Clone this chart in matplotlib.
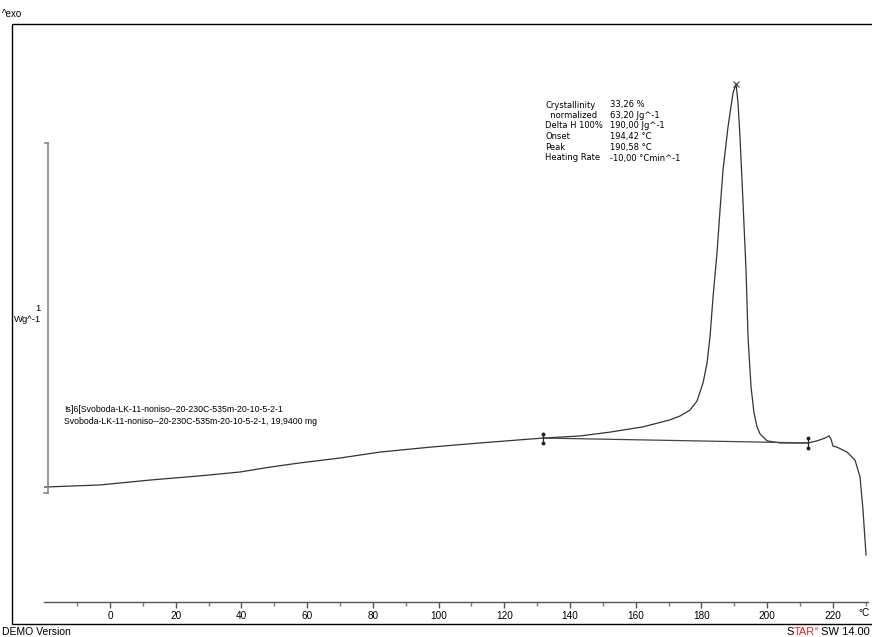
import matplotlib
matplotlib.use("Agg")
import matplotlib.pyplot as plt
from matplotlib.lines import Line2D
from matplotlib.patches import Rectangle
import matplotlib.transforms as mtransforms

# ---- data ----
temperature = [-20.09, -3.04, 12.17, 27.39, 39.56, 48.69, 57.82, 69.99, 82.17, 97.38,
               112.6, 131.77, 143.03, 152.16, 162.2, 170.42, 173.46, 176.51, 178.64,
               180.46, 181.68, 182.59, 183.51, 184.72, 185.64, 186.55, 188.07, 189.59,
               190.51, 191.11, 191.72, 192.64, 193.55, 194.16, 195.07, 195.98, 196.9,
               197.81, 199.94, 203.9, 212.42, 215.15, 217.59, 218.81, 219.42, 220.02,
               221.24, 224.29, 226.72, 228.24, 229.15, 230.07]
heat_flow = [0.017, 0.023, 0.037, 0.049, 0.060, 0.074, 0.086, 0.100, 0.117, 0.131,
             0.143, 0.157, 0.163, 0.174, 0.189, 0.209, 0.220, 0.237, 0.263,
             0.314, 0.371, 0.446, 0.560, 0.686, 0.809, 0.923, 1.046, 1.143,
             1.169, 1.114, 1.017, 0.829, 0.637, 0.446, 0.303, 0.229, 0.189,
             0.169, 0.149, 0.143, 0.143, 0.149, 0.157, 0.163, 0.154, 0.134,
             0.131, 0.117, 0.094, 0.046, -0.049, -0.177]
baseline_T = [131.77, 212.42]
baseline_v = [0.157, 0.143]
peak_T = [190.51]
peak_v = [1.169]
major_ticks = [0, 20, 40, 60, 80, 100, 120, 140, 160, 180, 200, 220]
minor_ticks = [-10, 10, 30, 50, 70, 90, 110, 130, 150, 170, 190, 210, 230]
result_labels = ["Crystallinity", "  normalized", "Delta H 100%", "Onset", "Peak", "Heating Rate"]
result_values = ["33,26 %", "63,20 Jg^-1", "190,00 Jg^-1", "194,42 °C", "190,58 °C", "-10,00 °Cmin^-1"]
sample_lines = ["!s]6[Svoboda-LK-11-noniso--20-230C-535m-20-10-5-2-1",
                "Svoboda-LK-11-noniso--20-230C-535m-20-10-5-2-1, 19,9400 mg"]

W, H = 872, 637
fig = plt.figure(figsize=(W / 100, H / 100), dpi=100)
FONT = ["Liberation Sans", "DejaVu Sans"]
FONT2 = ["DejaVu Sans"]

def fx(px):
    return px / W

def fy(py):
    return 1 - py / H

# outer frame
fig.patches.append(Rectangle((fx(12), fy(624)), 1.2, fy(24) - fy(624), transform=fig.transFigure,
                             fill=False, edgecolor="black", linewidth=1.0))

ax = fig.add_axes([fx(44), fy(602), fx(868) - fx(44), fy(24) - fy(602)])
ax.set_xlim(-20.09, 230.67)
ax.set_ylim(-0.3114, 1.34)
ax.patch.set_alpha(0)
for s in ["top", "right", "left"]:
    ax.spines[s].set_visible(False)
ax.spines["bottom"].set_color("#555555")
ax.spines["bottom"].set_linewidth(1.0)
ax.set_yticks([])
ax.set_xticks(major_ticks)
ax.set_xticks(minor_ticks, minor=True)
ax.tick_params(axis="x", which="major", direction="out", length=4, width=1, color="#555555",
               labelsize=7.2, pad=2.5)
ax.tick_params(axis="x", which="minor", direction="out", length=3, width=1, color="#777777")
for lab in ax.get_xticklabels():
    lab.set_family(FONT)

# curve
ax.plot(temperature, heat_flow, color="#333333", linewidth=0.9, solid_joinstyle="round")
ax.plot(baseline_T, baseline_v, color="#444444", linewidth=0.9)
ax.plot(peak_T, peak_v, marker="x", color="#444444", markersize=5, markeredgewidth=0.8)
for t, v in zip(baseline_T, baseline_v):
    ax.plot([t, t], [v - 0.013, v + 0.013], color="#222222", linewidth=0.9)
    ax.plot([t, t], [v - 0.013, v + 0.013], linestyle="none", marker="o", markersize=1.8,
            color="#222222")

# scale bar (1 W/g)
trans = mtransforms.blended_transform_factory(ax.transAxes, ax.transData)
xb = 4 / 824
ax.add_line(Line2D([xb, xb], [0, 1], transform=trans, color="#888888", linewidth=1.2,
                   clip_on=False))
ax.add_line(Line2D([xb - 3 / 824, xb], [1, 1], transform=trans, color="#888888", linewidth=1.2,
                   clip_on=False))
ax.add_line(Line2D([0, xb], [0, 0], transform=trans, color="#888888", linewidth=1.2,
                   clip_on=False))
fig.text(fx(41), fy(308), "1", ha="right", va="center", fontsize=6.8, family=FONT)
fig.text(fx(41), fy(320), "Wg^-1", ha="right", va="center", fontsize=6.8, family=FONT)

# texts
fig.text(fx(2), fy(14), "^exo", ha="left", va="center", fontsize=7, family=FONT)
fig.text(fx(858), fy(613), "°C", ha="left", va="center", fontsize=7.2, family=FONT)
fig.text(fx(2), fy(632), "DEMO Version", ha="left", va="center", fontsize=7.5, family=FONT)

ys = [105, 115, 125, 136, 147, 158]
for lab, val, y in zip(result_labels, result_values, ys):
    fig.text(fx(545), fy(y), lab, ha="left", va="center", fontsize=6.0, family=FONT2)
    fig.text(fx(610), fy(y), val, ha="left", va="center", fontsize=6.0, family=FONT2)

fig.text(fx(64), fy(410), sample_lines[0], ha="left", va="center", fontsize=6.3, family=FONT)
fig.text(fx(64), fy(421), sample_lines[1], ha="left", va="center", fontsize=6.3, family=FONT)

# STAR logo text
x0 = 786
t1 = fig.text(fx(x0), fy(632), "S", ha="left", va="center", fontsize=8, family=FONT)
fig.canvas.draw()
r = fig.canvas.get_renderer()
bb = t1.get_window_extent(r)
t2 = fig.text(bb.x1 / W, fy(632), "TAR", ha="left", va="center", fontsize=8, family=FONT,
              color="#e8262a")
bb = t2.get_window_extent(r)
t3 = fig.text(bb.x1 / W, fy(628), "e", ha="left", va="center", fontsize=4.5, family=FONT,
              color="#e8262a")
bb = t3.get_window_extent(r)
fig.text(bb.x1 / W, fy(632), " SW 14.00", ha="left", va="center", fontsize=8, family=FONT)

fig.savefig("out.png", dpi=100)
